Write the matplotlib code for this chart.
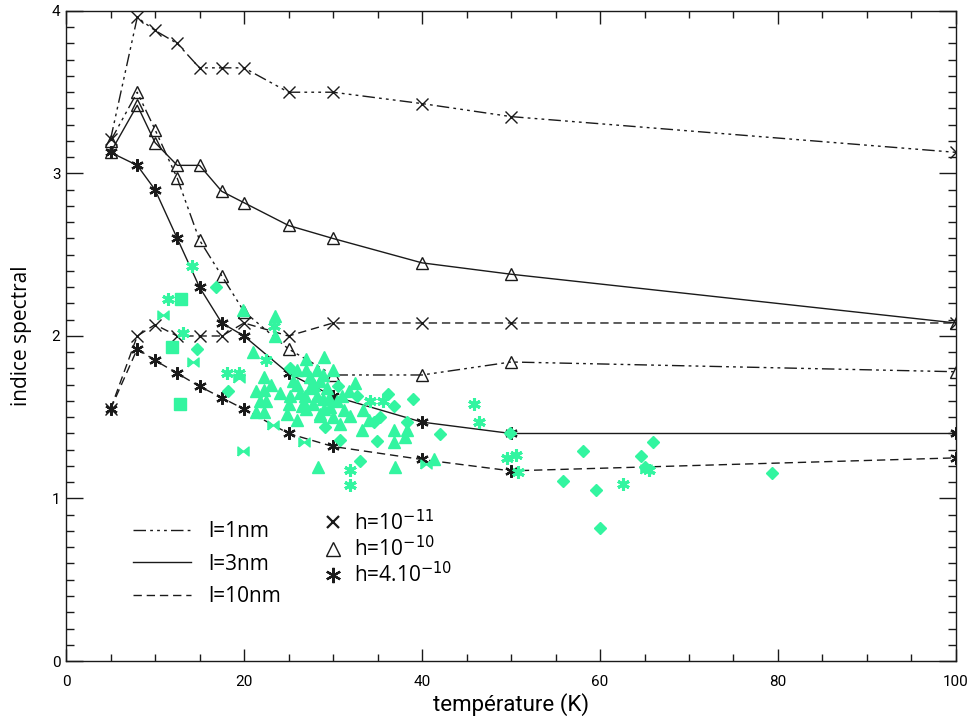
import matplotlib
matplotlib.use("Agg")
import matplotlib.pyplot as plt
from matplotlib.lines import Line2D
from matplotlib.ticker import MultipleLocator
import numpy as np

# ---------------- data ----------------
T = [5, 8, 10, 12.5, 15, 17.5, 20, 25, 30, 40, 50, 100]

l1_h11 = [3.21, 3.96, 3.88, 3.80, 3.65, 3.65, 3.65, 3.50, 3.50, 3.43, 3.35, 3.13]
l1_h10 = [3.20, 3.50, 3.27, 2.97, 2.59, 2.37, 2.15, 1.92, 1.76, 1.76, 1.84, 1.78]
l3_h10 = [3.13, 3.42, 3.19, 3.05, 3.05, 2.89, 2.82, 2.68, 2.60, 2.45, 2.38, 2.08]
l3_h4 = [3.13, 3.05, 2.90, 2.60, 2.30, 2.08, 2.00, 1.77, 1.63, 1.47, 1.40, 1.40]
l10_h11 = [1.55, 2.00, 2.07, 2.00, 2.00, 2.00, 2.08, 2.00, 2.08, 2.08, 2.08, 2.08]
l10_h4 = [1.55, 1.92, 1.85, 1.77, 1.69, 1.62, 1.55, 1.40, 1.32, 1.24, 1.17, 1.25]

obs_tri_x = [19.9, 23.5, 23.5, 21.0, 27.0, 29.0, 30.0, 22.2, 25.9, 27.0, 28.2, 28.9, 27.4, 28.5,
             25.5, 21.4, 22.2, 21.8, 22.5, 25.2, 26.3, 27.4, 28.2, 26.7, 27.8, 28.9, 29.7, 28.5,
             30.0, 32.5, 33.4, 31.2, 31.9, 24.8, 25.9, 28.5, 30.8, 33.2, 36.8, 38.3, 36.8, 38.1,
             28.3, 37.0, 22.2, 41.3, 26.0, 27.9, 29.3, 26.9, 29.5, 30.5, 31.0, 27.0, 29.0, 21.4,
             24.0, 26.5, 31.8, 34.0, 23.0, 25.0]
obs_tri_y = [2.16, 2.12, 2.00, 1.90, 1.86, 1.87, 1.79, 1.75, 1.79, 1.79, 1.79, 1.76, 1.75, 1.72,
             1.72, 1.66, 1.67, 1.60, 1.60, 1.63, 1.65, 1.68, 1.63, 1.59, 1.58, 1.61, 1.565, 1.52,
             1.50, 1.71, 1.545, 1.545, 1.51, 1.52, 1.48, 1.51, 1.46, 1.42, 1.42, 1.42, 1.35, 1.38,
             1.195, 1.195, 1.535, 1.245, 1.70, 1.70, 1.68, 1.63, 1.62, 1.60, 1.63, 1.55, 1.55, 1.53,
             1.65, 1.57, 1.66, 1.48, 1.70, 1.58]

obs_dia_x = [16.8, 14.7, 18.2, 30.6, 32.7, 36.2, 39.0, 36.8, 35.3, 38.3, 42.0, 29.1, 30.8, 34.9,
             33.0, 49.9, 58.1, 55.8, 59.5, 60.0, 64.6, 66.0, 65.1, 79.3, 25.2, 34.6]
obs_dia_y = [2.30, 1.92, 1.66, 1.69, 1.63, 1.64, 1.61, 1.57, 1.50, 1.47, 1.395, 1.44, 1.36, 1.355,
             1.23, 1.405, 1.29, 1.105, 1.055, 0.82, 1.26, 1.345, 1.195, 1.155, 1.80, 1.47]

obs_sq_x = [12.9, 11.9, 12.8]
obs_sq_y = [2.23, 1.93, 1.58]

obs_ast_x = [14.2, 11.5, 13.1, 22.5, 18.1, 19.4, 23.4, 31.9, 31.9, 45.8, 46.4, 34.2, 35.6,
             49.6, 50.6, 50.8, 62.6, 65.5]
obs_ast_y = [2.43, 2.23, 2.02, 1.85, 1.77, 1.77, 2.06, 1.175, 1.08, 1.58, 1.47, 1.60, 1.60,
             1.25, 1.27, 1.165, 1.09, 1.175]

obs_bow_x = [10.9, 14.3, 19.4, 19.9, 23.3, 26.7, 40.5, 65.2]
obs_bow_y = [2.13, 1.84, 1.74, 1.29, 1.45, 1.345, 1.215, 1.18]

line_labels = ["l=1nm", "l=3nm", "l=10nm"]
h_labels = [r"h=10$^{-11}$", r"h=10$^{-10}$", r"h=4.10$^{-10}$"]

# ---------------- style ----------------
GREEN = "#33f5a0"
INK = "#1a1a1a"
LS_1 = (0, (9, 3, 2, 3, 2, 3, 2, 3))
LS_3 = "-"
LS_10 = (0, (6, 3.5))
AST = (6, 2, 0)
BOW = [(-1, -0.8), (1, 0.8), (1, -0.8), (-1, 0.8), (-1, -0.8)]

SANS = ["Open Sans", "DejaVu Sans"]
NARROW = ["Roboto", "DejaVu Sans"]

fig = plt.figure(figsize=(9.67, 7.17), dpi=100)
ax = fig.add_axes([0.0683, 0.0781, 0.9203, 0.9066])

curves = [
    (l1_h11, LS_1, "x", 8, 1.0),
    (l1_h10, LS_1, "^", 8, 1.0),
    (l3_h10, LS_3, "^", 8, 1.0),
    (l3_h4, LS_3, AST, 9, 1.6),
    (l10_h11, LS_10, "x", 8, 1.0),
    (l10_h4, LS_10, AST, 9, 1.6),
]
for vals, ls, mk, ms, mew in curves:
    ax.plot(T, vals, color=INK, lw=1.0, ls=ls, zorder=2)
    ax.plot(T, vals, color=INK, lw=0, marker=mk, ms=ms, mew=mew,
            mfc="none" if mk == "^" else INK, mec=INK, zorder=2.5)

ax.plot(obs_tri_x, obs_tri_y, ls="none", marker="^", ms=9, color=GREEN, mec=GREEN, zorder=3)
ax.plot(obs_dia_x, obs_dia_y, ls="none", marker="D", ms=6, color=GREEN, mec=GREEN, zorder=3)
ax.plot(obs_sq_x, obs_sq_y, ls="none", marker="s", ms=8, color=GREEN, mec=GREEN, zorder=3)
ax.plot(obs_ast_x, obs_ast_y, ls="none", marker=AST, ms=9, mew=2.2, color=GREEN, mec=GREEN, zorder=3)
ax.plot(obs_bow_x, obs_bow_y, ls="none", marker=BOW, ms=8, color=GREEN, mec=GREEN, zorder=3)

ax.set_xlim(0, 100)
ax.set_ylim(0, 4)
ax.xaxis.set_major_locator(MultipleLocator(20))
ax.xaxis.set_minor_locator(MultipleLocator(5))
ax.yaxis.set_major_locator(MultipleLocator(1))
ax.yaxis.set_minor_locator(MultipleLocator(0.1))
ax.tick_params(which="both", direction="in", top=True, right=True, color=INK, width=1.0)
ax.tick_params(axis="x", which="major", length=9, pad=10)
ax.tick_params(axis="x", which="minor", length=5)
ax.tick_params(axis="y", which="major", length=12, pad=4)
ax.tick_params(axis="y", which="minor", length=6)
for s in ax.spines.values():
    s.set_linewidth(1.0)
    s.set_color(INK)
for lab in ax.get_xticklabels() + ax.get_yticklabels():
    lab.set_family(NARROW)
    lab.set_fontsize(11)

ax.set_xlabel("température (K)", family=NARROW, fontsize=16, labelpad=3)
ax.set_ylabel("indice spectral", family=SANS, fontsize=15, labelpad=14)

h1 = [Line2D([], [], color=INK, lw=1.0, ls=LS_1),
      Line2D([], [], color=INK, lw=1.0, ls=LS_3),
      Line2D([], [], color=INK, lw=1.0, ls=LS_10)]
leg1 = ax.legend(h1, line_labels, loc="upper left", bbox_to_anchor=(0.075, 0.215),
                 frameon=False, prop={"family": SANS, "size": 15}, handlelength=2.8,
                 handletextpad=0.8, labelspacing=0.55, borderpad=0, borderaxespad=0)
ax.add_artist(leg1)
h2 = [Line2D([], [], ls="none", marker="x", ms=9, mew=1.6, color=INK),
      Line2D([], [], ls="none", marker="^", ms=10, mew=1.0, mfc="none", mec=INK),
      Line2D([], [], ls="none", marker=AST, ms=11, mew=1.6, color=INK)]
ax.legend(h2, h_labels, loc="upper left", bbox_to_anchor=(0.288, 0.233),
          frameon=False, prop={"family": SANS, "size": 15}, handlelength=1.0,
          handletextpad=0.5, labelspacing=0.05, borderpad=0, borderaxespad=0)

fig.savefig("out.png", dpi=100)
